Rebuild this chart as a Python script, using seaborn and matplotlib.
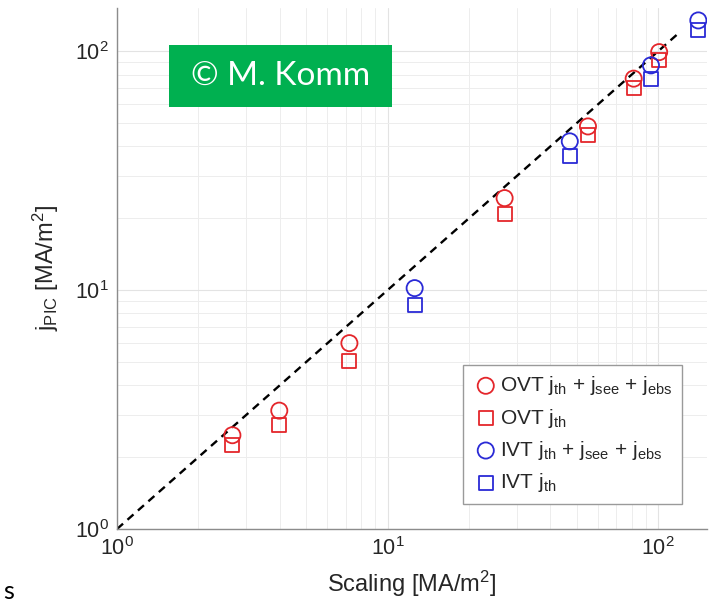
import matplotlib
matplotlib.use("Agg")
import matplotlib.pyplot as plt
import matplotlib.patches as mpatches
import seaborn as sns
import pandas as pd

# Outer-vertical-target (OVT) and inner-vertical-target (IVT) points
ovt_scaling = [2.67, 3.98, 7.23, 27.1, 55.1, 81.3, 101.0]
ovt_total = [2.47, 3.13, 6.0, 24.3, 48.5, 76.9, 99.3]
ovt_thermal = [2.25, 2.72, 5.05, 20.8, 44.5, 70.5, 91.7]

ivt_scaling = [12.6, 47.2, 94.2, 141.0]
ivt_total = [10.2, 42.0, 87.4, 134.8]
ivt_thermal = [8.66, 36.4, 76.9, 123.2]

# y = x reference line
ref_line = [1.0, 120.0]

series_labels = [
    r"OVT j$_{th}$ + j$_{see}$ + j$_{ebs}$",
    r"OVT j$_{th}$",
    r"IVT j$_{th}$ + j$_{see}$ + j$_{ebs}$",
    r"IVT j$_{th}$",
]

sns.set_style("white")
plt.rcParams["font.family"] = ["Liberation Sans", "DejaVu Sans"]
plt.rcParams["mathtext.fontset"] = "custom"
plt.rcParams["mathtext.rm"] = "Liberation Sans"
plt.rcParams["mathtext.it"] = "Liberation Sans"
plt.rcParams["mathtext.bf"] = "Liberation Sans:bold"
plt.rcParams["mathtext.default"] = "regular"

RED = "#e4262b"
BLUE = "#2a2ad6"
TXT = "#262626"
AX = "#8c8c8c"

fig = plt.figure(figsize=(7.11, 6.09), dpi=100)
ax = fig.add_axes([0.1646, 0.1314, 0.830, 0.8555])

ax.set_xscale("log")
ax.set_yscale("log")

sns.lineplot(x=ref_line, y=ref_line, ax=ax, color="black",
             linestyle=(0, (3.4, 2.5)), linewidth=1.7, zorder=2)

frames = [
    (pd.DataFrame({"x": ovt_scaling, "y": ovt_total}), "o", 135, RED, series_labels[0]),
    (pd.DataFrame({"x": ovt_scaling, "y": ovt_thermal}), "s", 100, RED, series_labels[1]),
    (pd.DataFrame({"x": ivt_scaling, "y": ivt_total}), "o", 135, BLUE, series_labels[2]),
    (pd.DataFrame({"x": ivt_scaling, "y": ivt_thermal}), "s", 100, BLUE, series_labels[3]),
]
for df, mk, size, col, lab in frames:
    sns.scatterplot(data=df, x="x", y="y", ax=ax, marker=mk, s=size,
                    color=col, facecolors="none", edgecolor=col,
                    linewidths=1.3, label=lab, zorder=3)

ax.set_xlim(1, 152)
ax.set_ylim(1, 152)

ax.grid(which="major", color="#e3e3e3", linewidth=0.8)
ax.grid(which="minor", color="#ededed", linewidth=0.7)
ax.set_axisbelow(True)

for side in ("top", "right"):
    ax.spines[side].set_visible(False)
for side in ("left", "bottom"):
    ax.spines[side].set_color(AX)
    ax.spines[side].set_linewidth(1.0)

ax.tick_params(which="both", direction="in", colors=AX, labelcolor=TXT,
               top=False, right=False)
ax.tick_params(which="major", length=5, labelsize=15.5, pad=6)
ax.tick_params(which="minor", length=3)

ax.set_xlabel("Scaling [MA/m$^2$]", fontsize=17, color=TXT, labelpad=6)
ax.set_ylabel(r"j$_{PIC}$ [MA/m$^2$]", fontsize=17, color=TXT, labelpad=10)

leg = ax.legend(loc="upper left", bbox_to_anchor=(0.586, 0.315), fontsize=15,
                frameon=True, fancybox=False, framealpha=1, edgecolor="#9a9a9a",
                borderpad=0.45, labelspacing=0.45, handletextpad=0.05,
                handlelength=1.3, borderaxespad=0)
leg.get_frame().set_linewidth(1.0)
for t in leg.get_texts():
    t.set_color(TXT)

# watermark badge
badge = mpatches.Rectangle((0.2377, 0.8243), 0.3136, 0.1018, transform=fig.transFigure,
                           facecolor="#00b050", edgecolor="none", zorder=10)
fig.patches.append(badge)
fig.text(0.3945, 0.8752, "© M. Komm", color="white", fontsize=24,
         family=["Lato", "DejaVu Sans"], ha="center", va="center", zorder=11)

fig.text(0.004, 0.0164, "s", color="black", fontsize=18,
         family=["Lato", "DejaVu Sans"], ha="left", va="baseline")

fig.savefig("out.png", dpi=100)
